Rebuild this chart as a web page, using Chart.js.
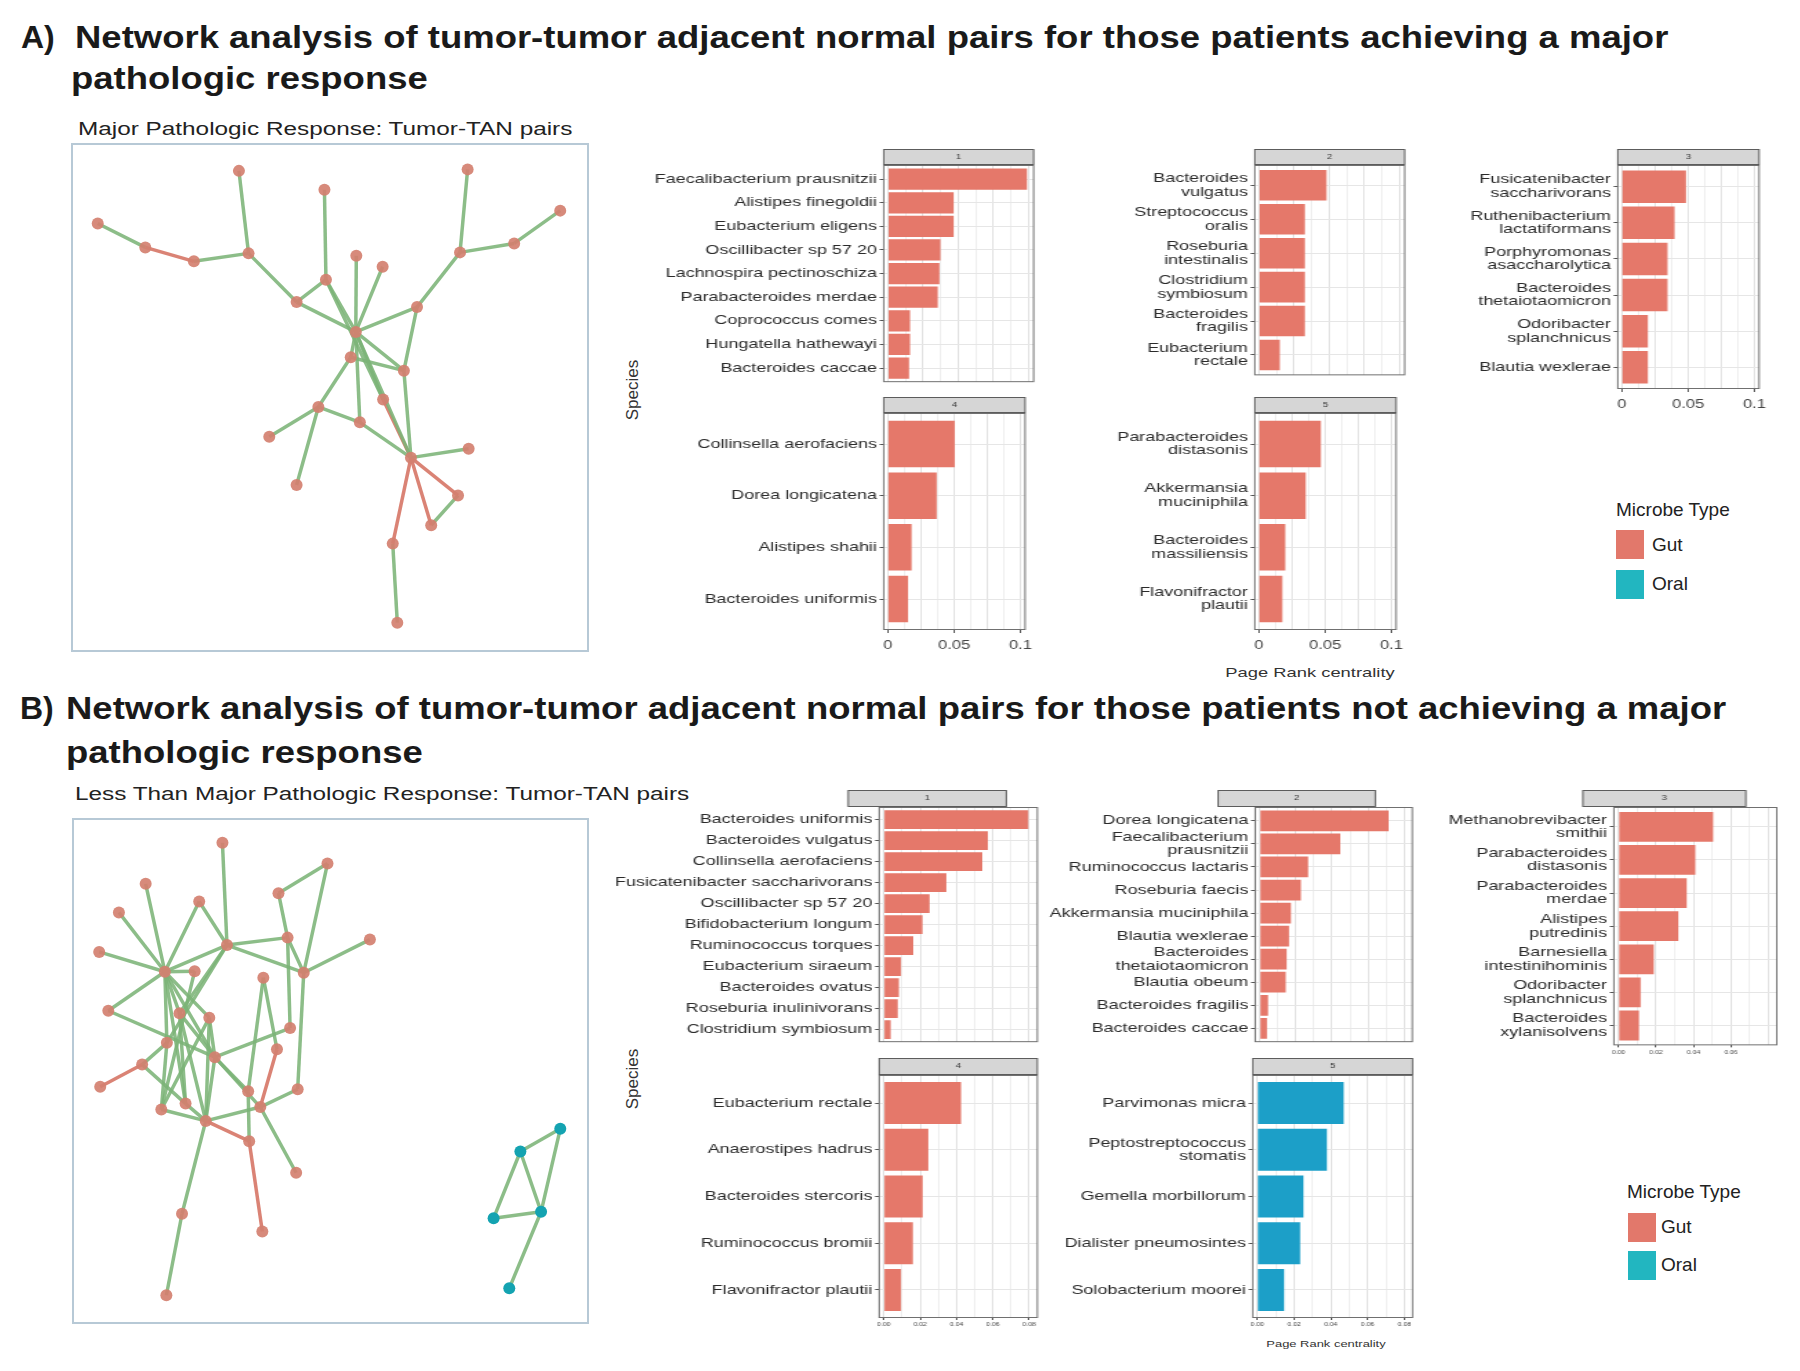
<!DOCTYPE html>
<html>
<head>
<meta charset="utf-8">
<title>Network analysis of tumor-TAN pairs</title>
<script src="https://cdn.jsdelivr.net/npm/chart.js@4.4.1/dist/chart.umd.min.js"></script>
<style>
  body { margin: 0; background: #fff; }
  #page { position: relative; width: 1800px; height: 1371px; overflow: hidden; font-family: "Liberation Sans", Arial, sans-serif; color: #1a1a1a; }
  #page div, #page canvas { position: absolute; white-space: nowrap; }
  .head { font-size: 32px; font-weight: bold; line-height: 36px; transform: scaleX(1.14); transform-origin: 0 50%; }
  .tag { font-size: 32px; font-weight: bold; line-height: 36px; }
  .sub { font-size: 17.5px; line-height: 22px; transform: scaleX(1.39); transform-origin: 0 50%; color: #222; }
  .axt { font-size: 17px; color: #333; transform: translate(-50%, -50%) rotate(-90deg); }
  .xt { color: #333; transform: translate(-50%, -50%) scaleX(1.38); }
  .leg { font-size: 19px; line-height: 24px; color: #222; }
  .key { width: 28px; height: 29px; }
</style>
</head>
<body>
<div id="page">
  <div class="tag" style="left:21px;top:19px">A)</div>
  <div class="head" style="left:75px;top:19px">Network analysis of tumor-tumor adjacent normal pairs for those patients achieving a major</div>
  <div class="head" style="left:71px;top:60px">pathologic response</div>
  <div class="sub" style="left:78px;top:118px">Major Pathologic Response: Tumor-TAN pairs</div>

  <div class="tag" style="left:20px;top:690px">B)</div>
  <div class="head" style="left:66px;top:690px">Network analysis of tumor-tumor adjacent normal pairs for those patients not achieving a major</div>
  <div class="head" style="left:66px;top:734px">pathologic response</div>
  <div class="sub" style="left:75px;top:783px">Less Than Major Pathologic Response: Tumor-TAN pairs</div>

  <div class="axt" style="left:633px;top:390px">Species</div>
  <div class="axt" style="left:633px;top:1079px">Species</div>
  <div class="xt" style="left:1310px;top:672px;font-size:13.3px">Page Rank centrality</div>
  <div class="xt" style="left:1326px;top:1343px;font-size:9.4px">Page Rank centrality</div>

  <div class="leg" style="left:1616px;top:498px">Microbe Type</div>
  <div class="key" style="left:1616px;top:530px;background:#e2786b"></div>
  <div class="leg" style="left:1652px;top:533px">Gut</div>
  <div class="key" style="left:1616px;top:570px;background:#22b6c0"></div>
  <div class="leg" style="left:1652px;top:572px">Oral</div>

  <div class="leg" style="left:1627px;top:1180px">Microbe Type</div>
  <div class="key" style="left:1628px;top:1213px;background:#e2786b"></div>
  <div class="leg" style="left:1661px;top:1215px">Gut</div>
  <div class="key" style="left:1628px;top:1251px;background:#22b6c0"></div>
  <div class="leg" style="left:1661px;top:1253px">Oral</div>
</div>
<script>
// ---- A: patients with a major pathologic response ----
const a1Species = ['Faecalibacterium prausnitzii', 'Alistipes finegoldii', 'Eubacterium eligens', 'Oscillibacter sp 57 20',
  'Lachnospira pectinoschiza', 'Parabacteroides merdae', 'Coprococcus comes', 'Hungatella hathewayi', 'Bacteroides caccae'];
const a1Rank = [0.0988, 0.0467, 0.0467, 0.0373, 0.0366, 0.0354, 0.0157, 0.0157, 0.0150];
const a2Species = ['Bacteroides\nvulgatus', 'Streptococcus\noralis', 'Roseburia\nintestinalis', 'Clostridium\nsymbiosum',
  'Bacteroides\nfragilis', 'Eubacterium\nrectale'];
const a2Rank = [0.0480, 0.0326, 0.0326, 0.0326, 0.0326, 0.0148];
const a3Species = ['Fusicatenibacter\nsaccharivorans', 'Ruthenibacterium\nlactatiformans', 'Porphyromonas\nasaccharolytica',
  'Bacteroides\nthetaiotaomicron', 'Odoribacter\nsplanchnicus', 'Blautia wexlerae'];
const a3Rank = [0.0484, 0.0398, 0.0345, 0.0345, 0.0197, 0.0197];
const a4Species = ['Collinsella aerofaciens', 'Dorea longicatena', 'Alistipes shahii', 'Bacteroides uniformis'];
const a4Rank = [0.0505, 0.0369, 0.0180, 0.0153];
const a5Species = ['Parabacteroides\ndistasonis', 'Akkermansia\nmuciniphila', 'Bacteroides\nmassiliensis', 'Flavonifractor\nplautii'];
const a5Rank = [0.0468, 0.0354, 0.0200, 0.0178];
const aClusterType = ['Gut', 'Gut', 'Gut', 'Gut', 'Gut'];

// ---- B: patients without a major pathologic response ----
const b1Species = ['Bacteroides uniformis', 'Bacteroides vulgatus', 'Collinsella aerofaciens', 'Fusicatenibacter saccharivorans',
  'Oscillibacter sp 57 20', 'Bifidobacterium longum', 'Ruminococcus torques', 'Eubacterium siraeum', 'Bacteroides ovatus',
  'Roseburia inulinivorans', 'Clostridium symbiosum'];
const b1Rank = [0.0795, 0.0573, 0.0542, 0.0344, 0.0252, 0.0213, 0.0162, 0.0095, 0.0083, 0.0077, 0.0038];
const b2Species = ['Dorea longicatena', 'Faecalibacterium\nprausnitzii', 'Ruminococcus lactaris', 'Roseburia faecis',
  'Akkermansia muciniphila', 'Blautia wexlerae', 'Bacteroides\nthetaiotaomicron', 'Blautia obeum', 'Bacteroides fragilis',
  'Bacteroides caccae'];
const b2Rank = [0.0714, 0.0446, 0.0268, 0.0228, 0.0173, 0.0162, 0.0149, 0.0144, 0.0046, 0.0040];
const b3Species = ['Methanobrevibacter\nsmithii', 'Parabacteroides\ndistasonis', 'Parabacteroides\nmerdae', 'Alistipes\nputredinis',
  'Barnesiella\nintestinihominis', 'Odoribacter\nsplanchnicus', 'Bacteroides\nxylanisolvens'];
const b3Rank = [0.0505, 0.0410, 0.0364, 0.0319, 0.0188, 0.0118, 0.0109];
const b4Species = ['Eubacterium rectale', 'Anaerostipes hadrus', 'Bacteroides stercoris', 'Ruminococcus bromii', 'Flavonifractor plautii'];
const b4Rank = [0.0425, 0.0245, 0.0214, 0.0160, 0.0095];
const b5Species = ['Parvimonas micra', 'Peptostreptococcus\nstomatis', 'Gemella morbillorum', 'Dialister pneumosintes', 'Solobacterium moorei'];
const b5Rank = [0.0470, 0.0379, 0.0251, 0.0233, 0.0146];
const bClusterType = ['Gut', 'Gut', 'Gut', 'Gut', 'Oral'];

// axis ticks (labelled ones) for each half
const aTicks = [0, 0.05, 0.1];
const bTicks = [0, 0.02, 0.04, 0.06, 0.08];

// network layouts, node positions in % of the plot box (x from left, y from top)
const aNodeX = [32.0, 48.9, 77.2, 95.5, 4.1, 13.5, 23.1, 33.9, 75.7, 86.4, 55.2, 60.4, 49.2, 43.4, 67.2,
  55.1, 54.1, 64.6, 60.5, 47.7, 55.9, 38.0, 77.4, 66.0, 43.4, 75.3, 70.0, 62.4, 63.3];
const aNodeY = [4.4, 8.2, 4.1, 12.4, 15.0, 19.8, 22.6, 21.0, 20.8, 19.0, 21.5, 23.7, 26.3, 30.8, 31.8,
  36.8, 41.9, 44.6, 50.4, 51.9, 55.0, 57.9, 60.3, 62.1, 67.6, 69.7, 75.7, 79.4, 95.3];
const aOralNodes = [];
// edges: [node, node, sign of association]
const aEdges = [[1, 8, '+'], [5, 6, '+'], [6, 7, '-'], [7, 8, '+'], [8, 14, '+'], [2, 13, '+'], [13, 14, '+'], [14, 16, '+'],
  [13, 16, '+'], [13, 19, '+'], [11, 16, '+'], [12, 16, '+'], [3, 9, '+'], [9, 10, '+'], [10, 4, '+'], [9, 15, '+'],
  [15, 16, '+'], [15, 18, '+'], [16, 17, '+'], [16, 18, '+'], [16, 19, '+'], [17, 18, '+'], [16, 21, '+'], [17, 20, '+'],
  [20, 22, '+'], [20, 25, '+'], [20, 21, '+'], [21, 24, '+'], [16, 24, '+'], [18, 24, '+'], [19, 24, '-'], [24, 23, '+'],
  [24, 26, '-'], [24, 27, '-'], [26, 27, '+'], [24, 28, '-'], [28, 29, '+']];

const bNodeX = [28.6, 49.4, 13.4, 24.0, 8.1, 39.7, 4.2, 29.5, 41.5, 57.8, 17.2, 23.1, 36.7, 44.7, 6.0,
  20.1, 26.0, 42.0, 17.6, 39.4, 27.1, 12.7, 4.4, 33.7, 43.5, 21.3, 16.5, 36.1, 25.3, 33.9,
  43.2, 20.6, 36.5, 17.5, 95.5, 87.6, 82.3, 91.7, 85.4];
const bNodeY = [3.8, 8.0, 12.1, 15.7, 17.9, 14.0, 25.9, 24.5, 23.0, 23.4, 29.9, 29.8, 31.1, 30.1, 37.8,
  38.3, 39.2, 41.3, 44.3, 45.6, 47.2, 48.7, 53.2, 54.1, 53.7, 56.6, 57.8, 57.3, 60.1, 64.2,
  70.6, 78.9, 82.5, 95.4, 61.7, 66.3, 79.8, 78.5, 94.0];
const bOralNodes = [35, 36, 37, 38, 39];
const bEdges = [[1, 8, '+'], [2, 6, '+'], [2, 14, '+'], [3, 11, '+'], [4, 11, '+'], [4, 8, '+'], [5, 11, '+'], [7, 11, '+'],
  [6, 9, '+'], [9, 18, '+'], [8, 9, '+'], [8, 11, '+'], [8, 16, '+'], [8, 19, '+'], [8, 14, '+'], [10, 14, '+'],
  [11, 12, '+'], [11, 16, '+'], [11, 17, '+'], [11, 21, '+'], [11, 26, '+'], [11, 19, '+'], [15, 11, '+'], [15, 21, '+'],
  [13, 24, '+'], [14, 25, '+'], [25, 28, '+'], [16, 29, '+'], [16, 26, '+'], [16, 21, '+'], [17, 21, '+'], [17, 27, '+'],
  [17, 29, '+'], [18, 21, '+'], [19, 22, '+'], [19, 27, '+'], [22, 23, '-'], [22, 26, '+'], [21, 24, '+'], [21, 29, '+'],
  [21, 28, '+'], [24, 30, '+'], [26, 29, '+'], [27, 29, '+'], [28, 31, '+'], [29, 30, '-'], [29, 32, '+'], [32, 34, '+'],
  [20, 28, '-'], [30, 33, '-'], [13, 20, '+'], [12, 27, '+'], [28, 29, '+'], [9, 14, '+'],
  [35, 36, '+'], [35, 38, '+'], [36, 38, '+'], [36, 37, '+'], [37, 38, '+'], [38, 39, '+']];

// ---------------------------------------------------------------
Chart.defaults.font.family = '"Liberation Sans", Arial, sans-serif';
const page = document.getElementById('page');
const SX = 1.38;   // the ggplot panels in the figure were pasted in stretched sideways
const barColor = { Gut: '#e5786a', Oral: '#1c9fc8' };
const nodeColor = { Gut: 'rgba(212,128,112,0.92)', Oral: '#14a3b1' };
const edgeColor = { '+': 'rgba(124,180,120,0.88)', '-': 'rgba(214,118,102,0.9)' };

function addCanvas(left, top, w, h, styleW) {
  const cv = document.createElement('canvas');
  cv.width = w; cv.height = h;
  cv.style.left = left + 'px'; cv.style.top = top + 'px';
  cv.style.width = (styleW || w) + 'px'; cv.style.height = h + 'px';
  page.appendChild(cv);
  return cv;
}

// panel border + facet strip, ggplot style
const facetFrame = {
  id: 'facetFrame',
  afterDraw(chart, args, o) {
    const { ctx, chartArea: a } = chart;
    ctx.save();
    ctx.lineWidth = 1;
    ctx.strokeStyle = '#707070';
    ctx.strokeRect(a.left, a.top + 0.5, a.width, a.height - 1);
    const sx = a.left + o.shift, sy = a.top - o.height - 1;
    ctx.fillStyle = '#d6d6d6';
    ctx.fillRect(sx, sy, a.width, o.height);
    ctx.strokeStyle = '#5c5c5c';
    ctx.strokeRect(sx, sy + 0.5, a.width, o.height);
    ctx.fillStyle = '#3a3a3a';
    ctx.font = '7px "Liberation Sans"';
    ctx.textAlign = 'center';
    ctx.textBaseline = 'middle';
    ctx.fillText(o.label, sx + a.width / 2, sy + o.height / 2 + 0.5);
    ctx.restore();
  }
};

const boxFrame = {
  id: 'boxFrame',
  afterDraw(chart) {
    const { ctx, width, height } = chart;
    ctx.save();
    ctx.strokeStyle = '#b7c9d6';
    ctx.lineWidth = 2;
    ctx.strokeRect(1, 1, width - 2, height - 2);
    ctx.restore();
  }
};

function drawFacet(f) {
  const [l, t, w, h] = f.box;
  const LW = 300, stripH = f.stripH, PT = stripH + 2;
  const axH = f.axis ? f.sc.axisH : 1;
  const cw = Math.round((LW + w + 6) / SX);
  const yW = LW / SX, innerW = w / SX;
  const cv = addCanvas(l - LW, t - PT, cw, PT + h + axH, cw * SX);
  const n = f.species.length;
  const sc = f.sc;
  const gridVals = [];
  for (let i = 0; i * sc.grid <= sc.labelMax + 1e-9 || i * sc.grid <= sc.gridMax + 1e-9; i++) gridVals.push(+(i * sc.grid).toFixed(4));
  const isLabelled = v => f.ticks.some(m => Math.abs(m - v) < 1e-6) && v <= sc.labelMax + 1e-9;
  const isMajor = v => Math.abs(v / sc.major - Math.round(v / sc.major)) < 1e-6;

  new Chart(cv, {
    type: 'bar',
    data: {
      datasets: [{
        data: f.rank.map((v, i) => ({ x: v, y: i + 1 })),
        backgroundColor: barColor[f.type],
        barPercentage: 0.9,
        categoryPercentage: 1
      }]
    },
    options: {
      indexAxis: 'y',
      responsive: false,
      animation: false,
      devicePixelRatio: 1,
      layout: { padding: { left: 0, top: PT, right: cw - yW - innerW, bottom: 0 } },
      plugins: {
        legend: { display: false },
        tooltip: { enabled: false },
        facetFrame: { label: f.strip, shift: f.shift / SX, height: stripH }
      },
      scales: {
        x: {
          type: 'linear', min: sc.min, max: sc.max,
          afterBuildTicks: s => { s.ticks = gridVals.map(v => ({ value: v })); },
          afterFit: s => { s.height = axH; },
          border: { display: false },
          grid: {
            color: c => isMajor(c.tick.value) ? '#e2e2e2' : '#efefef',
            lineWidth: 1,
            drawTicks: f.axis,
            tickLength: sc.tickLen,
            tickColor: c => isLabelled(c.tick.value) ? '#555' : 'rgba(0,0,0,0)'
          },
          ticks: {
            display: f.axis,
            autoSkip: false, maxRotation: 0,
            padding: sc.pad,
            color: '#444',
            font: { size: sc.font },
            callback: v => isLabelled(v) ? sc.fmt(v) : ''
          }
        },
        y: {
          type: 'linear', reverse: true, offset: false,
          min: 0.4, max: n + 0.6,
          afterBuildTicks: s => { s.ticks = f.species.map((_, i) => ({ value: i + 1 })); },
          afterFit: s => { s.width = yW; },
          border: { display: false },
          grid: { color: '#e6e6e6', offset: false, tickLength: 3, tickColor: '#555' },
          ticks: {
            autoSkip: false, padding: 2, color: '#2b2b2b',
            font: { size: 13, lineHeight: 1.05 },
            callback: v => f.species[v - 1].split('\n')
          }
        }
      }
    },
    plugins: [facetFrame]
  });
}

function drawNetwork(box, xs, ys, oral, edges) {
  const [l, t, w, h] = box;
  const cv = addCanvas(l, t, w, h);
  const pt = i => ({ x: xs[i - 1], y: ys[i - 1] });
  const sets = [{
    data: xs.map((x, i) => ({ x, y: ys[i] })),
    pointRadius: 6,
    pointBackgroundColor: xs.map((_, i) => oral.includes(i + 1) ? nodeColor.Oral : nodeColor.Gut),
    pointBorderWidth: 0,
    order: 0
  }];
  edges.forEach(e => sets.push({
    data: [pt(e[0]), pt(e[1])],
    showLine: true,
    borderColor: edgeColor[e[2]],
    borderWidth: 3.5,
    pointRadius: 0,
    order: 1
  }));
  new Chart(cv, {
    type: 'scatter',
    data: { datasets: sets },
    options: {
      responsive: false, animation: false, devicePixelRatio: 1,
      layout: { padding: 0 },
      plugins: { legend: { display: false }, tooltip: { enabled: false } },
      scales: {
        x: { display: false, min: 0, max: 100 },
        y: { display: false, min: 0, max: 100, reverse: true }
      }
    },
    plugins: [boxFrame]
  });
}

// scale settings for the two halves
const scaleA = { min: -0.003, max: 0.1035, grid: 0.0125, gridMax: 0.1, major: 0.025, labelMax: 0.1,
  font: 12, pad: 5, tickLen: 3, axisH: 26, fmt: v => v === 0 ? '0' : String(+v.toFixed(3)) };
const scaleB = { min: -0.0025, max: 0.0845, grid: 0.01, gridMax: 0.08, major: 0.02, labelMax: 0.08,
  font: 5, pad: 2, tickLen: 2, axisH: 13, fmt: v => v.toFixed(2) };
const scaleB3 = Object.assign({}, scaleB, { labelMax: 0.06 });

const aSpecies = [a1Species, a2Species, a3Species, a4Species, a5Species];
const aRank = [a1Rank, a2Rank, a3Rank, a4Rank, a5Rank];
const bSpecies = [b1Species, b2Species, b3Species, b4Species, b5Species];
const bRank = [b1Rank, b2Rank, b3Rank, b4Rank, b5Rank];

const boxesA = [[884, 165, 150, 225], [1255, 165, 150, 225], [1618, 165, 149, 224], [884, 413, 150, 217], [1255, 413, 150, 217]];
const axisA = [false, false, true, true, true];
const boxesB = [[879, 807, 158, 243], [1255, 807, 157, 243], [1614, 807, 163, 241], [879, 1075, 158, 243], [1253, 1075, 160, 243]];
const axisB = [false, false, true, true, true];
const shiftB = [-31, -37, -31, 0, 0];

aSpecies.forEach((sp, i) => drawFacet({
  species: sp, rank: aRank[i], type: aClusterType[i], strip: String(i + 1),
  box: boxesA[i], axis: axisA[i], sc: scaleA, ticks: aTicks, shift: 0, stripH: 15
}));
bSpecies.forEach((sp, i) => drawFacet({
  species: sp, rank: bRank[i], type: bClusterType[i], strip: String(i + 1),
  box: boxesB[i], axis: axisB[i], sc: i === 2 ? scaleB3 : scaleB, ticks: bTicks, shift: shiftB[i], stripH: 16
}));

drawNetwork([71, 143, 518, 509], aNodeX, aNodeY, aOralNodes, aEdges);
drawNetwork([72, 818, 517, 506], bNodeX, bNodeY, bOralNodes, bEdges);
</script>
</body>
</html>
